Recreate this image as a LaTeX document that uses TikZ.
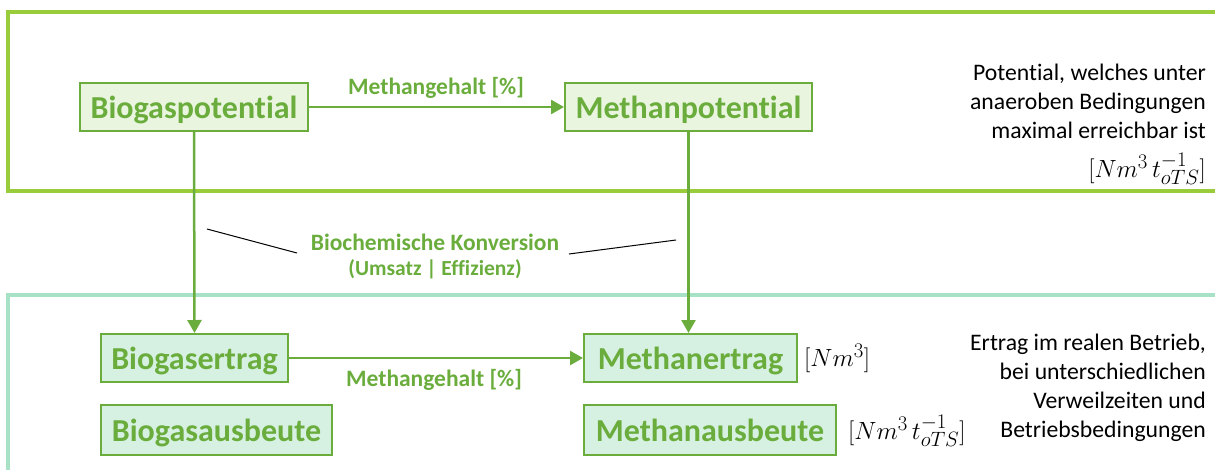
\documentclass[tikz,border=0pt]{standalone}
\usepackage{fontspec}
\setmainfont{Carlito}[Ligatures=NoCommon]
\usetikzlibrary{arrows.meta}
\definecolor{txtgreen}{HTML}{6AAD3D}
\definecolor{framegreen}{HTML}{99CC3A}
\definecolor{frameteal}{HTML}{A8E2C6}
\definecolor{filltop}{HTML}{EAF5DF}
\definecolor{fillbot}{HTML}{D6F0E1}
\tikzset{
  x=1pt, y=-1pt,
  box/.style={draw=txtgreen, line width=2pt, inner sep=0pt, text=txtgreen,
    font=\fontsize{32}{36}\selectfont\bfseries, text height=24pt, text depth=2pt},
  topbox/.style={box, fill=filltop, minimum height=48pt},
  botbox/.style={box, fill=fillbot, minimum height=48pt},
  conn/.style={draw=txtgreen, line width=2.5pt, -{Triangle[length=13pt,width=14pt]}},
  lbl/.style={text=txtgreen, font=\fontsize{23.5}{28}\selectfont\bfseries, inner sep=0pt},
  desc/.style={align=right, inner sep=0pt, font=\fontsize{23.7}{29}\selectfont},
  unit/.style={inner sep=0pt, font=\fontsize{30}{33}\selectfont},
  frame/.style={line width=3.5pt},
  bracket/.style={draw=black, line width=1pt}
}
\begin{document}
\begin{tikzpicture}
\useasboundingbox (0,0) rectangle (1215,469);
\clip (0,0) rectangle (1215,469);
% frames
\draw[frame, draw=framegreen] (8,12) rectangle (1240,191);
\draw[frame, draw=frameteal] (8,295) rectangle (1240,490);
% boxes
\node[topbox, minimum width=228pt] (bp) at (194,107) {Biogaspotential};
\node[topbox, minimum width=247pt] (mp) at (688.5,107) {Methanpotential};
\node[botbox, minimum width=187pt] (be) at (194.5,358) {Biogasertrag};
\node[botbox, minimum width=213pt] (me) at (690.5,358) {Methanertrag};
\node[botbox, minimum width=231pt, minimum height=50pt] (ba) at (216.5,430) {Biogasausbeute};
\node[botbox, minimum width=252pt, minimum height=50pt] (ma) at (710,430) {Methanausbeute};
% connectors
\draw[conn] (bp) -- (mp);
\draw[conn] (be) -- (me);
\draw[conn] (bp.south) -- (be.north);
\draw[conn] (mp.south) -- (mp.south |- me.north);
% labels
\node[lbl] (mg1) at (436,88) {Methangehalt [\%]};
\node[lbl] (mg2) at (434,380) {Methangehalt [\%]};
\node[lbl] (bk) at (435,242) {Biochemische Konversion};
\node[lbl, font=\fontsize{21.5}{24}\selectfont\bfseries] (ue) at (435,269) {(Umsatz | Effizienz)};
% bracket lines
\coordinate (l1) at (207,229);
\coordinate (l2) at (297,253);
\coordinate (r1) at (569,254);
\coordinate (r2) at (676,240);
\draw[bracket] (l1) -- (l2);
\draw[bracket] (r1) -- (r2);
% descriptions
\node[desc, anchor=north east] (pd) at (1206,64) {Potential, welches unter\\anaeroben Bedingungen\\maximal erreichbar ist};
\node[unit, anchor=east] (pu) at (1206,169) {$[Nm^3\,t^{-1}_{oTS}]$};
\node[desc, anchor=north east] (ed) at (1206,334) {Ertrag im realen Betrieb,\\bei unterschiedlichen\\Verweilzeiten und\\Betriebsbedingungen};
\node[unit, anchor=west] (meu) at (804,358) {$[Nm^3]$};
\node[unit, anchor=west] (mau) at (848,431) {$[Nm^3\,t^{-1}_{oTS}]$};
\end{tikzpicture}
\end{document}
